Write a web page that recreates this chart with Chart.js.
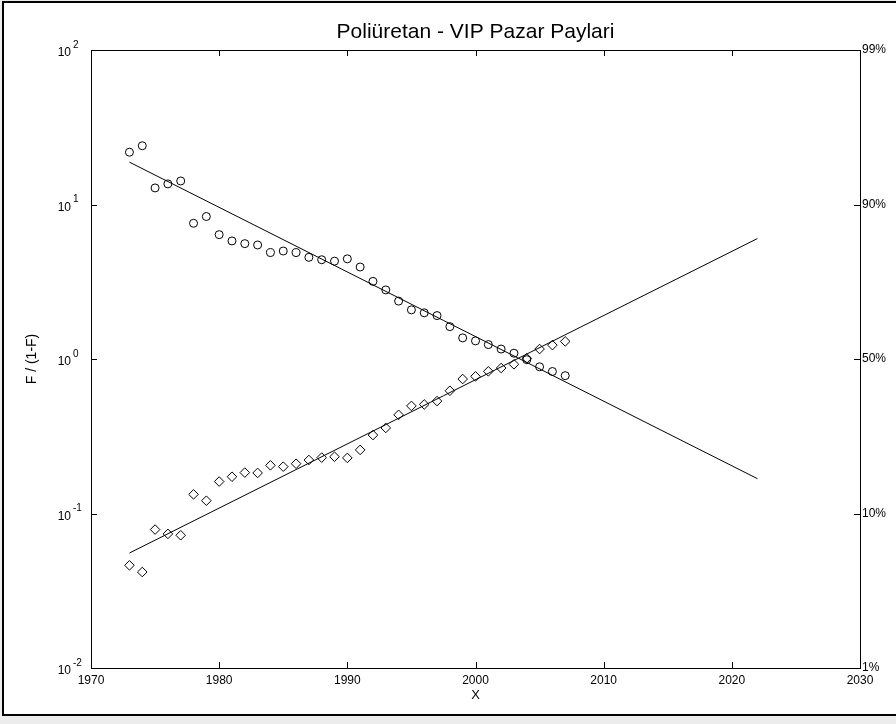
<!DOCTYPE html>
<html>
<head>
<meta charset="utf-8">
<script src="https://cdn.jsdelivr.net/npm/chart.js@4.4.1/dist/chart.umd.min.js"></script>
<style>
  html, body { margin: 0; padding: 0; background: #ececec; }
  #frame { position: absolute; left: 2px; top: 1px; width: 900px; height: 715px;
           border: 2px solid #000; background: #fff; box-sizing: border-box; }
  #wrap { position: absolute; left: 0; top: 0; width: 896px; height: 724px; }
</style>
</head>
<body>
<div id="frame"></div>
<div id="wrap"><canvas id="chart-area" width="896" height="724"></canvas></div>
<script>
(function () {
  'use strict';

  var FONT = '"Liberation Sans", Arial, sans-serif';
  var TICK = 6;
  var TITLE = 'Poliüretan - VIP Pazar Paylari';

  var years = [
    1973, 1974, 1975, 1976, 1977, 1978, 1979, 1980, 1981, 1982,
    1983, 1984, 1985, 1986, 1987, 1988, 1989, 1990, 1991, 1992,
    1993, 1994, 1995, 1996, 1997, 1998, 1999, 2000, 2001, 2002,
    2003, 2004, 2005, 2006, 2007
  ];

  // poliüretan share, as F/(1-F) (circles)
  var ratioPU = [
    21.8, 24.0, 12.8, 13.6, 14.2, 7.56, 8.36, 6.38, 5.81, 5.58,
    5.47, 4.88, 5.0, 4.88, 4.55, 4.39, 4.3, 4.45, 3.94, 3.18,
    2.8, 2.37, 2.08, 1.99, 1.91, 1.62, 1.37, 1.31, 1.24, 1.16,
    1.09, 0.99, 0.89, 0.83, 0.78
  ];

  // VIP share, as F/(1-F) (diamonds)
  var ratioVIP = [
    0.0462, 0.0418, 0.0787, 0.0738, 0.0723, 0.133, 0.121, 0.161, 0.173, 0.184,
    0.183, 0.205, 0.201, 0.21, 0.222, 0.23, 0.233, 0.229, 0.258, 0.322,
    0.358, 0.435, 0.497, 0.508, 0.534, 0.623, 0.742, 0.772, 0.832, 0.874,
    0.924, 1.01, 1.16, 1.23, 1.30
  ];

  // fitted trend lines, start and end
  var fitYears = [1973, 2022];
  var fitPU = [18.8, 0.168];
  var fitVIP = [0.0555, 6.02];

  var xTickValues = [1970, 1980, 1990, 2000, 2010, 2020, 2030];
  var yDecades = [0.01, 0.1, 1, 10, 100];
  var yExponents = ['-2', '-1', '0', '1', '2'];
  var rightLabels = ['1%', '10%', '50%', '90%', '99%'];

  var toPoints = function (xs, ys) {
    return xs.map(function (x, i) { return { x: x, y: ys[i] }; });
  };

  var setTicks = function (values) {
    return function (scale) {
      scale.ticks = values.map(function (v) { return { value: v }; });
    };
  };

  // title over the plot, box round the plot, inward tick marks, 10^n labels
  var framePlugin = {
    id: 'frame',
    afterDraw: function (chart) {
      var ctx = chart.ctx;
      var area = chart.chartArea;
      var xs = chart.scales.x;
      var ys = chart.scales.y;
      ctx.save();
      ctx.fillStyle = '#000';
      ctx.font = '21px ' + FONT;
      ctx.textAlign = 'center';
      ctx.textBaseline = 'middle';
      ctx.fillText(TITLE, (area.left + area.right) / 2, 32);

      ctx.strokeStyle = '#000';
      ctx.lineWidth = 1;
      ctx.strokeRect(Math.round(area.left) + 0.5, Math.round(area.top) + 0.5,
        Math.round(area.right - area.left), Math.round(area.bottom - area.top));
      ctx.beginPath();
      xTickValues.forEach(function (v) {
        var px = Math.round(xs.getPixelForValue(v)) + 0.5;
        ctx.moveTo(px, area.top); ctx.lineTo(px, area.top + TICK);
        ctx.moveTo(px, area.bottom); ctx.lineTo(px, area.bottom - TICK);
      });
      yDecades.forEach(function (v) {
        var py = Math.round(ys.getPixelForValue(v)) + 0.5;
        ctx.moveTo(area.left, py); ctx.lineTo(area.left + TICK, py);
        ctx.moveTo(area.right, py); ctx.lineTo(area.right - TICK, py);
      });
      ctx.stroke();

      yDecades.forEach(function (v, i) {
        var py = ys.getPixelForValue(v);
        ctx.font = '12px ' + FONT;
        ctx.textAlign = 'right';
        ctx.fillText('10', area.left - 20, py + 3);
        ctx.font = '10px ' + FONT;
        ctx.textAlign = 'left';
        ctx.fillText(yExponents[i], area.left - 18, py - 5);
      });
      ctx.restore();
    }
  };

  var config = {
    type: 'scatter',
    data: {
      datasets: [{
        type: 'line',
        data: toPoints(fitYears, fitPU),
        borderColor: '#000',
        borderWidth: 1,
        pointRadius: 0,
        fill: false
      }, {
        type: 'line',
        data: toPoints(fitYears, fitVIP),
        borderColor: '#000',
        borderWidth: 1,
        pointRadius: 0,
        fill: false
      }, {
        data: toPoints(years, ratioPU),
        pointStyle: 'circle',
        pointRadius: 4,
        borderColor: '#000',
        backgroundColor: 'rgba(0,0,0,0)',
        borderWidth: 1
      }, {
        data: toPoints(years, ratioVIP),
        pointStyle: 'rectRot',
        pointRadius: 4.8,
        borderColor: '#000',
        backgroundColor: 'rgba(0,0,0,0)',
        borderWidth: 1
      }]
    },
    options: {
      responsive: false,
      animation: false,
      layout: { padding: { top: 50, left: 0, right: 0, bottom: 10 } },
      plugins: {
        legend: { display: false },
        tooltip: { enabled: false },
        title: { display: false }
      },
      scales: {
        x: {
          type: 'linear',
          min: 1970,
          max: 2030,
          afterBuildTicks: setTicks(xTickValues),
          afterFit: function (scale) { scale.height = 46; },
          grid: { display: false, drawTicks: false },
          border: { display: false },
          ticks: {
            color: '#000',
            padding: 5,
            font: { family: FONT, size: 12 },
            callback: function (v) { return String(v); }
          },
          title: {
            display: true,
            text: 'X',
            color: '#000',
            font: { family: FONT, size: 13 },
            padding: { top: 0, bottom: 11 }
          }
        },
        y: {
          type: 'logarithmic',
          position: 'left',
          min: 0.01,
          max: 100,
          afterBuildTicks: setTicks(yDecades),
          afterFit: function (scale) { scale.width = 91; },
          grid: { display: false, drawTicks: false },
          border: { display: false },
          ticks: { display: false },
          title: {
            display: true,
            text: 'F / (1-F)',
            color: '#000',
            font: { family: FONT, size: 14 },
            padding: { top: 24, bottom: 0 }
          }
        },
        y2: {
          type: 'logarithmic',
          position: 'right',
          min: 0.01,
          max: 100,
          afterBuildTicks: setTicks(yDecades),
          afterFit: function (scale) { scale.width = 36; },
          grid: { display: false, drawTicks: false },
          border: { display: false },
          ticks: {
            color: '#000',
            padding: 2,
            font: { family: FONT, size: 12 },
            callback: function (v, i) { return rightLabels[i]; }
          }
        }
      }
    },
    plugins: [framePlugin]
  };

  var ctx = document.getElementById('chart-area').getContext('2d');
  window.myChart = new Chart(ctx, config);
})();
</script>
</body>
</html>
